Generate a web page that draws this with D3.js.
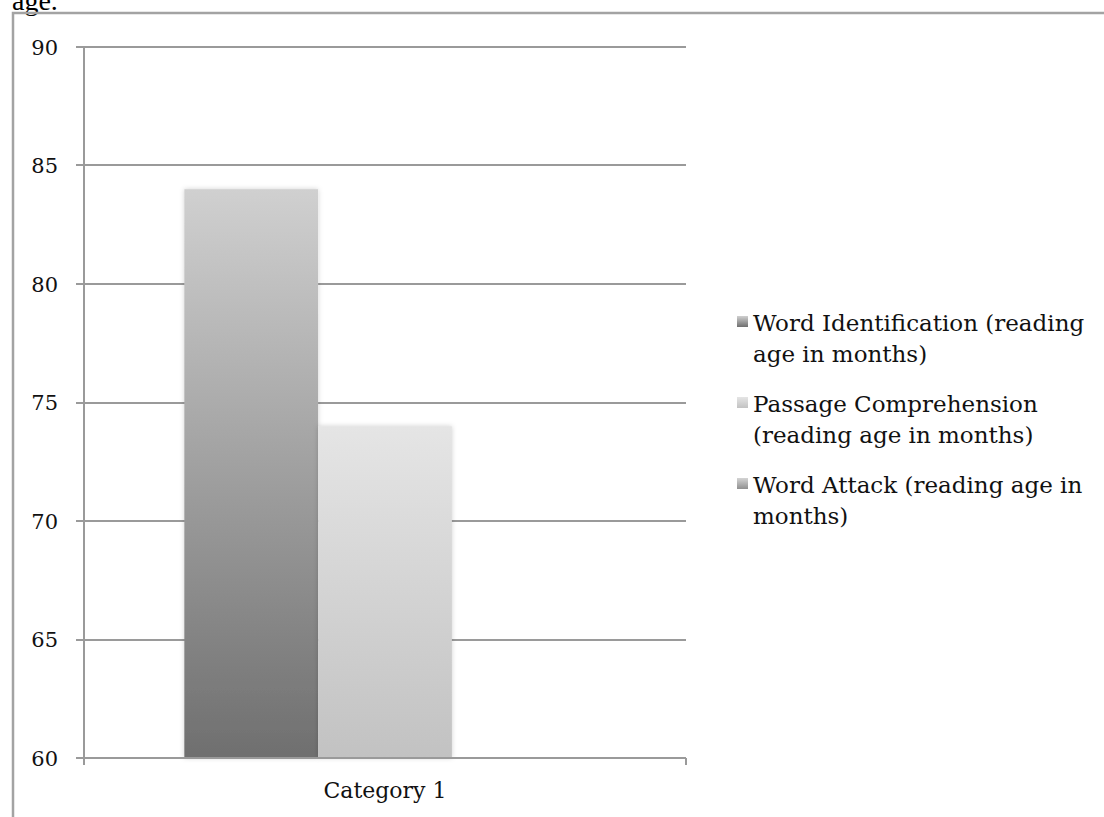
<!DOCTYPE html>
<html>
<head>
    <meta charset="utf-8" />
    <title>Reading age in months</title>
    <script src="https://d3js.org/d3.v7.min.js"></script>
    <style>
        body { margin: 0; background: #fff; }
        svg { display: block; }
        .tick-label, .cat-label, .legend-text { font-family: "DejaVu Serif", serif; fill: #111; }
        .grid, .axis-line { stroke: #9a9a9a; stroke-width: 2; shape-rendering: crispEdges; }
    </style>
</head>
<body>
    <div id="the-chart"></div>
    <script>
        // data
        var categories = ["Category 1"];
        var series = [
            "Word Identification (reading age in months)",
            "Passage Comprehension (reading age in months)",
            "Word Attack (reading age in months)"
        ];
        var seriesLines = [
            ["Word Identification (reading", "age in months)"],
            ["Passage Comprehension", "(reading age in months)"],
            ["Word Attack (reading age in", "months)"]
        ];
        var values = [84, 74, null];   // Word Attack bar is not visible (below 60)
        var yTicks = [60, 65, 70, 75, 80, 85, 90];

        var barTop = ["#d0d0d0", "#e5e5e5", "#d4d4d4"],
            barBottom = ["#6f6f6f", "#c2c2c2", "#8f8f8f"];

        var svg = d3.select("#the-chart").append("svg")
            .attr("width", 1104)
            .attr("height", 817);

        var defs = svg.append("defs");
        series.forEach(function (s, i) {
            var lg = defs.append("linearGradient")
                .attr("id", "grad" + i)
                .attr("x1", 0).attr("y1", 0).attr("x2", 0).attr("y2", 1);
            lg.append("stop").attr("offset", "0%").attr("stop-color", barTop[i]);
            lg.append("stop").attr("offset", "100%").attr("stop-color", barBottom[i]);
        });
        var shadow = defs.append("filter").attr("id", "shadow")
            .attr("x", "-10%").attr("y", "-5%").attr("width", "120%").attr("height", "110%");
        shadow.append("feDropShadow")
            .attr("dx", 0).attr("dy", 0).attr("stdDeviation", 2.5)
            .attr("flood-color", "#000").attr("flood-opacity", 0.18);

        // bit of the document text above the chart frame (cut off in the original too)
        svg.append("text")
            .attr("x", 12).attr("y", 10)
            .style("font-family", "'Liberation Serif', serif")
            .style("font-size", "28px")
            .style("fill", "#000")
            .text("age.");

        // chart frame (runs off the page to the right and bottom)
        svg.append("path")
            .attr("d", "M13,830V13H1110")
            .attr("fill", "none")
            .attr("stroke", "#a3a3a3")
            .attr("stroke-width", 2.5);

        var plot = { left: 84, right: 686, top: 47, bottom: 758 };

        var y = d3.scaleLinear().domain([60, 90]).range([plot.bottom, plot.top]);
        var x0 = d3.scaleBand().domain(categories).range([plot.left, plot.right]);
        var x1 = d3.scaleBand().domain(series).range([0, x0.bandwidth()])
            .paddingInner(0).paddingOuter(0.75);

        var g = svg.append("g");

        // gridlines with left tick marks
        g.selectAll("line.grid")
            .data(yTicks)
            .enter().append("line")
            .attr("class", "grid")
            .attr("x1", plot.left - 8)
            .attr("x2", plot.right)
            .attr("y1", function (d) { return Math.round(y(d)); })
            .attr("y2", function (d) { return Math.round(y(d)); });

        g.selectAll("text.tick-label")
            .data(yTicks)
            .enter().append("text")
            .attr("class", "tick-label")
            .attr("x", 58)
            .attr("y", function (d) { return y(d); })
            .attr("dy", "0.36em")
            .attr("text-anchor", "end")
            .style("font-size", "21px")
            .text(function (d) { return d; });

        // bars
        var barData = [];
        categories.forEach(function (c) {
            series.forEach(function (s, i) {
                if (values[i] != null && values[i] > 60) barData.push({ cat: c, s: s, i: i, v: values[i] });
            });
        });

        g.selectAll("rect.bar")
            .data(barData)
            .enter().append("rect")
            .attr("class", "bar")
            .attr("x", function (d) { return x0(d.cat) + x1(d.s); })
            .attr("y", function (d) { return y(d.v); })
            .attr("width", x1.bandwidth())
            .attr("height", function (d) { return y(60) - y(d.v); })
            .attr("fill", function (d) { return "url(#grad" + d.i + ")"; })
            .attr("filter", "url(#shadow)");

        // axes drawn over the bars
        g.append("line").attr("class", "axis-line")
            .attr("x1", plot.left).attr("x2", plot.left)
            .attr("y1", plot.top).attr("y2", plot.bottom + 7);
        g.append("line").attr("class", "axis-line")
            .attr("x1", plot.left - 8).attr("x2", plot.right)
            .attr("y1", plot.bottom).attr("y2", plot.bottom);
        g.selectAll("line.cat-tick")
            .data(categories)
            .enter().append("line")
            .attr("class", "axis-line cat-tick")
            .attr("x1", function (d) { return x0(d) + x0.bandwidth(); })
            .attr("x2", function (d) { return x0(d) + x0.bandwidth(); })
            .attr("y1", plot.bottom).attr("y2", plot.bottom + 7);

        g.selectAll("text.cat-label")
            .data(categories)
            .enter().append("text")
            .attr("class", "cat-label")
            .attr("x", function (d) { return x0(d) + x0.bandwidth() / 2; })
            .attr("y", 798)
            .attr("text-anchor", "middle")
            .style("font-size", "22px")
            .text(function (d) { return d; });

        // legend
        var legendTop = [331, 412, 493], lineStep = 30.5;
        var legend = svg.append("g").selectAll("g.legend")
            .data(series)
            .enter().append("g")
            .attr("class", "legend");

        legend.append("rect")
            .attr("x", 737)
            .attr("y", function (d, i) { return legendTop[i] - 15; })
            .attr("width", 11)
            .attr("height", 11)
            .attr("fill", function (d, i) { return "url(#grad" + i + ")"; });

        legend.each(function (d, i) {
            var t = d3.select(this).append("text")
                .attr("class", "legend-text")
                .attr("x", 753)
                .attr("y", legendTop[i])
                .style("font-size", "23px");
            seriesLines[i].forEach(function (line, k) {
                t.append("tspan")
                    .attr("x", 753)
                    .attr("y", legendTop[i] + k * lineStep)
                    .text(line);
            });
        });
    </script>
</body>
</html>
